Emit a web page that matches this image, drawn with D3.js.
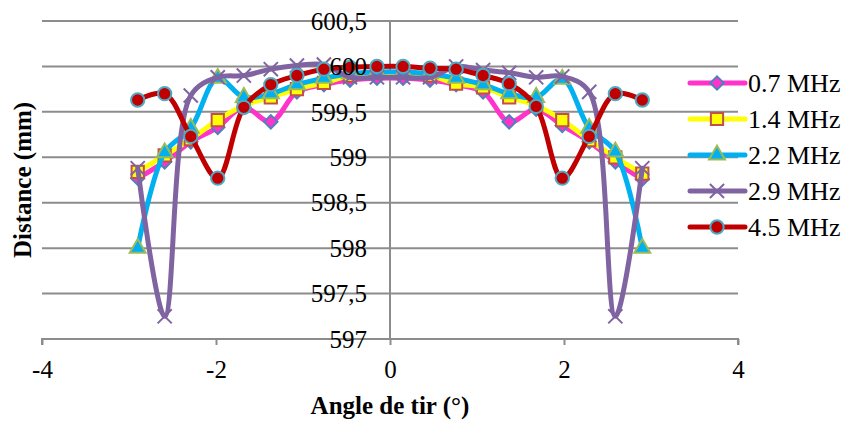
<!DOCTYPE html>
<html>
<head>
<meta charset="utf-8">
<script src="https://cdn.jsdelivr.net/npm/d3@7"></script>
<style>
  body { margin: 0; background: #fff; }
  svg text { font-family: "Liberation Serif", "Times New Roman", serif !important; fill: #000; }
</style>
</head>
<body>
<div id="chart"></div>
<script>
// angles (°) shared by every series
const angles = [-2.9, -2.59, -2.29, -1.98, -1.68, -1.37, -1.07, -0.76, -0.46, -0.15,
                0.15, 0.46, 0.76, 1.07, 1.37, 1.68, 1.98, 2.29, 2.59, 2.9];

const f07 = [598.77, 598.95, 599.17, 599.33, 599.55, 599.39, 599.72, 599.8, 599.85, 599.87,
             599.87, 599.85, 599.8, 599.72, 599.39, 599.53, 599.35, 599.17, 598.95, 598.76];
const f14 = [598.84, 599.02, 599.2, 599.41, 599.57, 599.66, 599.75, 599.82, 599.9, 599.93,
             599.93, 599.9, 599.81, 599.77, 599.66, 599.57, 599.41, 599.19, 599.0, 598.82];
const f22 = [598.0, 599.05, 599.32, 599.87, 599.66, 599.7, 599.8, 599.87, 599.92, 599.94,
             599.94, 599.92, 599.87, 599.8, 599.7, 599.66, 599.86, 599.32, 599.06, 598.0];
const f29 = [598.88, 597.25, 599.68, 599.88, 599.9, 599.97, 600.01, 600.02, 599.88, 599.88,
             599.88, 599.88, 600.0, 599.96, 599.93, 599.88, 599.89, 599.72, 597.25, 598.88];
const f45 = [599.63, 599.7, 599.23, 598.77, 599.55, 599.8, 599.9, 599.97, 599.99, 600.0,
             600.0, 599.98, 599.97, 599.9, 599.81, 599.56, 598.77, 599.23, 599.7, 599.63];

const seriesNames = ["0.7 MHz", "1.4 MHz", "2.2 MHz", "2.9 MHz", "4.5 MHz"];
const seriesValues = [f07, f14, f22, f29, f45];

const xTicks = [-4, -2, 0, 2, 4];
const yTicks = [597, 597.5, 598, 598.5, 599, 599.5, 600, 600.5];

const styles = [
  { line: "#ff33cc", fill: "#ff33cc", stroke: "#4f81bd", shape: "diamond" },
  { line: "#ffff00", fill: "#ffff00", stroke: "#c0504d", shape: "square" },
  { line: "#00b0f0", fill: "#00b0f0", stroke: "#9bbb59", shape: "triangle" },
  { line: "#8064a2", fill: "none",    stroke: "#8064a2", shape: "x" },
  { line: "#c00000", fill: "#c00000", stroke: "#4bacc6", shape: "circle" }
];

const serif = '"Liberation Serif", "Times New Roman", serif';
const width = 845, height = 421;

const x = d3.scaleLinear().domain([-4, 4]).range([42, 738]);
const y = d3.scaleLinear().domain([597, 600.5]).range([339, 21]);

const svg = d3.select("#chart").append("svg")
    .attr("width", width)
    .attr("height", height)
    .style("font-family", serif);

// horizontal gridlines
svg.append("g")
  .selectAll("line")
  .data(yTicks.slice(1))
  .enter().append("line")
    .attr("x1", x(-4)).attr("x2", x(4))
    .attr("y1", d => y(d)).attr("y2", d => y(d))
    .attr("stroke", "#8c8c8c")
    .attr("stroke-width", 2);

// x axis at bottom
const xAxis = svg.append("g")
    .attr("transform", `translate(0,${y(597)})`)
    .call(d3.axisBottom(x).tickValues(xTicks).tickSize(6).tickPadding(15).tickFormat(d => String(d)))
    .attr("font-family", serif);
xAxis.select(".domain").attr("stroke", "#8c8c8c").attr("stroke-width", 2)
    .attr("d", `M${x(-4)},6V0H${x(4)}V6`);
xAxis.selectAll(".tick line").attr("stroke", "#8c8c8c").attr("stroke-width", 2);
xAxis.selectAll(".tick text")
    .attr("font-size", 25)
    .style("font-family", serif)
    .attr("fill", "#000");

// y axis crossing at x = 0
svg.append("line")
    .attr("x1", x(0)).attr("x2", x(0))
    .attr("y1", y(600.5)).attr("y2", y(597))
    .attr("stroke", "#8c8c8c")
    .attr("stroke-width", 2);

const symbolXType = {
  draw(ctx, size) {
    const r = Math.sqrt(size) / 2;
    ctx.moveTo(-r, -r); ctx.lineTo(r, r);
    ctx.moveTo(r, -r); ctx.lineTo(-r, r);
  }
};

function symbolPath(shape) {
  if (shape === "diamond") return d3.symbol(d3.symbolSquare, 90)();
  if (shape === "square") return d3.symbol(d3.symbolSquare, 150)();
  if (shape === "triangle") return d3.symbol(d3.symbolTriangle, 110)();
  if (shape === "x") return d3.symbol(symbolXType, 200)();
  return d3.symbol(d3.symbolCircle, 140)();
}
const symbolRotate = shape => shape === "diamond" ? " rotate(45)" : "";

const line = d3.line()
    .x((d, i) => x(angles[i]))
    .y(d => y(d))
    .curve(d3.curveCatmullRom);

seriesValues.forEach((vals, k) => {
  const st = styles[k];
  const g = svg.append("g");
  g.append("path")
      .attr("d", line(vals))
      .attr("fill", "none")
      .attr("stroke", st.line)
      .attr("stroke-width", 5)
      .attr("stroke-linecap", "round")
      .attr("stroke-linejoin", "round");
  g.selectAll("path.mk")
    .data(vals)
    .enter().append("path")
      .attr("class", "mk")
      .attr("d", symbolPath(st.shape))
      .attr("transform", (d, i) => `translate(${x(angles[i])},${y(d)})${symbolRotate(st.shape)}`)
      .attr("fill", st.fill)
      .attr("stroke", st.stroke)
      .attr("stroke-width", 2);
});

// y tick labels (drawn above the series)
svg.append("g")
  .selectAll("text")
  .data(yTicks)
  .enter().append("text")
    .attr("x", 367)
    .attr("y", d => y(d))
    .attr("dy", "0.35em")
    .attr("text-anchor", "end")
    .attr("font-size", 25)
    .style("font-family", serif)
    .text(d => String(d).replace(".", ","));

// axis titles
svg.append("text")
    .attr("x", x(0))
    .attr("y", 414)
    .attr("text-anchor", "middle")
    .attr("font-size", 25)
    .attr("font-weight", "bold")
    .style("font-family", serif)
    .text("Angle de tir (°)");

svg.append("text")
    .attr("transform", `translate(31,${y(598.75)}) rotate(-90)`)
    .attr("text-anchor", "middle")
    .attr("font-size", 25)
    .attr("font-weight", "bold")
    .style("font-family", serif)
    .text("Distance (mm)");

// legend
const legend = svg.selectAll(".legend")
    .data(seriesNames)
    .enter().append("g")
    .attr("class", "legend")
    .attr("transform", (d, i) => `translate(690,${83 + i * 36})`);

legend.append("line")
    .attr("x1", 0).attr("x2", 55)
    .attr("stroke", (d, i) => styles[i].line)
    .attr("stroke-width", 5)
    .attr("stroke-linecap", "round");

legend.append("path")
    .attr("d", (d, i) => symbolPath(styles[i].shape))
    .attr("transform", (d, i) => `translate(27,0)${symbolRotate(styles[i].shape)}`)
    .attr("fill", (d, i) => styles[i].fill)
    .attr("stroke", (d, i) => styles[i].stroke)
    .attr("stroke-width", 2);

legend.append("text")
    .attr("x", 58)
    .attr("dy", "0.35em")
    .attr("font-size", 26)
    .style("font-family", serif)
    .text(d => d);
</script>
</body>
</html>
